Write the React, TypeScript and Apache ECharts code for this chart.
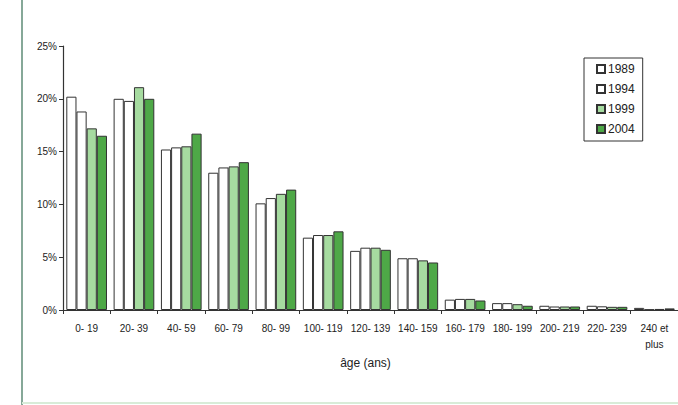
import React, { useEffect, useRef } from "react";
import * as echarts from "echarts";

const categories = ["0- 19", "20- 39", "40- 59", "60- 79", "80- 99", "100- 119", "120- 139", "140- 159", "160- 179", "180- 199", "200- 219", "220- 239", "240 et\nplus"];
const years = ["1989", "1994", "1999", "2004"];
const v1989 = [20.2, 20.0, 15.2, 13.0, 10.1, 6.85, 5.6, 4.9, 0.98, 0.65, 0.4, 0.4, 0.2];
const v1994 = [18.8, 19.8, 15.4, 13.5, 10.6, 7.1, 5.9, 4.9, 1.05, 0.65, 0.33, 0.35, 0.05];
const v1999 = [17.2, 21.1, 15.5, 13.6, 11.0, 7.1, 5.9, 4.7, 1.05, 0.55, 0.33, 0.3, 0.1];
const v2004 = [16.5, 20.0, 16.7, 14.0, 11.4, 7.45, 5.7, 4.5, 0.9, 0.4, 0.33, 0.3, 0.15];
const yTicks = [0, 5, 10, 15, 20, 25];

const seriesValues = [v1989, v1994, v1999, v2004];
const colors = ["#ffffff", "#ffffff", "#a6dba0", "#4ea847"];

export default function App() {
  const ref = useRef<HTMLDivElement>(null);
  useEffect(() => {
    const chart = echarts.init(ref.current!, null, { renderer: "svg" });
    const font = "'Liberation Sans', Arial, sans-serif";
    chart.setOption({
      animation: false,
      backgroundColor: "#ffffff",
      textStyle: { fontFamily: font },
      grid: { left: 63, top: 46, width: 616, height: 264 },
      legend: {
        data: years,
        orient: "vertical",
        left: 584,
        top: 58,
        width: 68,
        padding: [5, 8, 6, 12],
        itemGap: 8,
        itemWidth: 8,
        itemHeight: 8,
        borderColor: "#333",
        borderWidth: 1,
        icon: "rect",
        textStyle: { fontSize: 12, color: "#222", fontFamily: font, padding: [0, 0, 0, -2] },
      },
      xAxis: {
        type: "category",
        data: categories,
        name: "âge (ans)",
        nameLocation: "middle",
        nameGap: 38,
        nameTextStyle: { fontSize: 12, color: "#222", padding: [0, 0, 0, -10] },
        axisLine: { lineStyle: { color: "#333", width: 1.2 } },
        axisTick: { show: true, length: 4, lineStyle: { color: "#333" } },
        axisLabel: { fontSize: 10, color: "#222", interval: 0, margin: 10, lineHeight: 16 },
      },
      yAxis: {
        type: "value",
        min: 0,
        max: 25,
        interval: 5,
        axisLine: { show: true, lineStyle: { color: "#333", width: 1.2 } },
        axisTick: { show: true, length: 4, lineStyle: { color: "#333" } },
        splitLine: { show: false },
        axisLabel: {
          fontSize: 10,
          color: "#222",
          margin: 6,
          formatter: (v: number) => (yTicks.includes(v) ? v + "%" : ""),
        },
      },
      series: years.map((y, i) => ({
        name: y,
        type: "bar",
        data: seriesValues[i],
        barGap: "0%",
        barCategoryGap: "14%",
        itemStyle: { color: colors[i], borderColor: "#333", borderWidth: 1 },
      })),
      graphic: [
        { type: "line", shape: { x1: 22, y1: 0, x2: 22, y2: 405 }, style: { stroke: "#86a898", lineWidth: 2 } },
        { type: "line", shape: { x1: 22, y1: 403, x2: 678, y2: 403 }, style: { stroke: "#d8ecd8", lineWidth: 2 } },
      ],
    });
    return () => chart.dispose();
  }, []);
  return <div ref={ref} style={{ width: 678, height: 405, position: "absolute", left: 0, top: 0 }} />;
}
